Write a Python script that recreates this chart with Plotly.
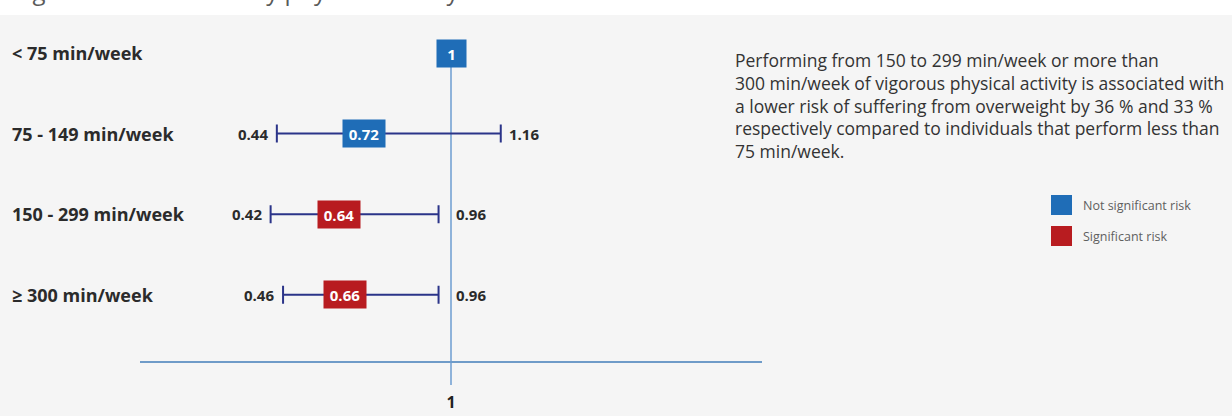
import plotly.graph_objects as go

# ---- data -------------------------------------------------------------
categories = ["< 75 min/week", "75 - 149 min/week", "150 - 299 min/week", "≥ 300 min/week"]
odds_ratio = [1.00, 0.72, 0.64, 0.66]
ci_low = [None, 0.44, 0.42, 0.46]
ci_high = [None, 1.16, 0.96, 0.96]
significant = [False, False, True, True]
reference_value = 1.0
x_ticks = [1]
x_tick_labels = ["1"]

title_text = "Figure 7. Odds ratios by physical activity"
note_text = (
    "Performing from 150 to 299 min/week or more than<br>"
    "300 min/week of vigorous physical activity is associated with<br>"
    "a lower risk of suffering from overweight by 36 % and 33 %<br>"
    "respectively compared to individuals that perform less than<br>"
    "75 min/week."
)
legend_labels = ["Not significant risk", "Significant risk"]

# ---- style ------------------------------------------------------------
W, H = 1232, 416
L, R, T, B = 140, 470, 20, 31
PW, PH = W - L - R, H - T - B
FONT = "Open Sans"
BG = "#f5f5f5"
BLUE = "#1f6db7"
RED = "#b81c20"
NAVY = "#2b3489"
REF_LINE = "#6d9dd1"
AXIS_LINE = "#6f9bc8"
TEXT = "#2b2b2b"

ROW_TOP_PX = 53.0      # page pixel of the first row
ROW_STEP_PX = 80.6     # spacing between rows


def px_x(p):
    return (p - L) / PW


def px_y(p):
    return (T + PH - p) / PH


def row_value(p):
    return (p - ROW_TOP_PX) / ROW_STEP_PX


rows = list(range(len(categories)))
colors = [RED if s else BLUE for s in significant]

fig = go.Figure()

# confidence intervals as horizontal error bars
ci_rows = [i for i in rows if ci_low[i] is not None]
fig.add_trace(go.Scatter(
    x=[odds_ratio[i] for i in ci_rows],
    y=ci_rows,
    mode="markers",
    marker=dict(size=1, color="rgba(0,0,0,0)"),
    error_x=dict(
        type="data", symmetric=False,
        array=[ci_high[i] - odds_ratio[i] for i in ci_rows],
        arrayminus=[odds_ratio[i] - ci_low[i] for i in ci_rows],
        color=NAVY, thickness=2, width=9,
    ),
    hoverinfo="skip", showlegend=False,
))

shapes = [
    # white band above the chart panel
    dict(type="rect", xref="paper", yref="paper", x0=px_x(0), x1=px_x(W),
         y0=px_y(15), y1=px_y(0), fillcolor="white", line_width=0, layer="below"),
    # reference line at OR = 1
    dict(type="line", xref="x", yref="y", x0=reference_value, x1=reference_value,
         y0=0, y1=row_value(T + PH), line=dict(color=REF_LINE, width=1.5), layer="below"),
    # horizontal axis line
    dict(type="line", xref="paper", yref="paper", x0=0, x1=1,
         y0=px_y(362), y1=px_y(362), line=dict(color=AXIS_LINE, width=2.2), layer="below"),
]

# legend swatches
for k, c in enumerate([BLUE, RED]):
    top = 195 + 31 * k
    shapes.append(dict(type="rect", xref="paper", yref="paper",
                       x0=px_x(1051), x1=px_x(1072), y0=px_y(top + 20), y1=px_y(top),
                       fillcolor=c, line_width=0))

annotations = []

# figure title (runs off the top of the page)
annotations.append(dict(
    text=title_text, xref="paper", yref="paper", x=px_x(12), y=px_y(9),
    xanchor="left", yanchor="bottom", showarrow=False,
    font=dict(family=FONT, size=24, color="#5a5a5a"),
))

for i in rows:
    # row label
    annotations.append(dict(
        text=f"<b>{categories[i]}</b>", xref="paper", yref="y", x=px_x(10), y=i,
        xanchor="left", yanchor="middle", showarrow=False,
        font=dict(family=FONT, size=18, color=TEXT),
    ))
    # odds-ratio box
    label = f"{odds_ratio[i]:g}"
    annotations.append(dict(
        text=f"<b>{label}</b>", xref="x", yref="y", x=odds_ratio[i], y=i,
        xanchor="center", yanchor="middle", showarrow=False,
        width=max(21, 8.5 * len(label)), height=19, borderpad=4,
        bgcolor=colors[i], font=dict(family=FONT, size=15, color="white"),
    ))
    if ci_low[i] is not None:
        annotations.append(dict(
            text=f"<b>{ci_low[i]:g}</b>", xref="x", yref="y", x=ci_low[i], y=i,
            xanchor="right", yanchor="middle", xshift=-7, showarrow=False,
            font=dict(family=FONT, size=15, color=TEXT),
        ))
        hi_anchor = max(ci_high[i], reference_value)
        annotations.append(dict(
            text=f"<b>{ci_high[i]:g}</b>", xref="x", yref="y", x=hi_anchor, y=i,
            xanchor="left", yanchor="middle",
            xshift=3 if ci_high[i] < reference_value else 6, showarrow=False,
            font=dict(family=FONT, size=15, color=TEXT),
        ))

# explanatory note
annotations.append(dict(
    text=note_text, xref="paper", yref="paper", x=px_x(733), y=px_y(46),
    xanchor="left", yanchor="top", align="left", showarrow=False,
    font=dict(family=FONT, size=17.5, color="#333333"),
))

# legend text
for k, lab in enumerate(legend_labels):
    annotations.append(dict(
        text=lab, xref="paper", yref="paper", x=px_x(1081), y=px_y(205 + 31 * k),
        xanchor="left", yanchor="middle", showarrow=False,
        font=dict(family=FONT, size=12.5, color="#5f5f5f"),
    ))

fig.update_layout(
    width=W, height=H,
    margin=dict(l=L, r=R, t=T, b=B, pad=0, autoexpand=False),
    paper_bgcolor=BG, plot_bgcolor=BG,
    showlegend=False,
    shapes=shapes,
    annotations=annotations,
    xaxis=dict(range=[0, 2], showgrid=False, zeroline=False, showline=False,
               tickmode="array", tickvals=x_ticks,
               ticktext=[f"<b>{t}</b>" for t in x_tick_labels],
               ticks="", ticklabelstandoff=6, automargin=False,
               tickfont=dict(family=FONT, size=16, color="#222222"),
               fixedrange=True),
    yaxis=dict(range=[row_value(T + PH), row_value(T)], showgrid=False,
               zeroline=False, showline=False, showticklabels=False,
               automargin=False, fixedrange=True),
)

fig.write_html("out.html")
